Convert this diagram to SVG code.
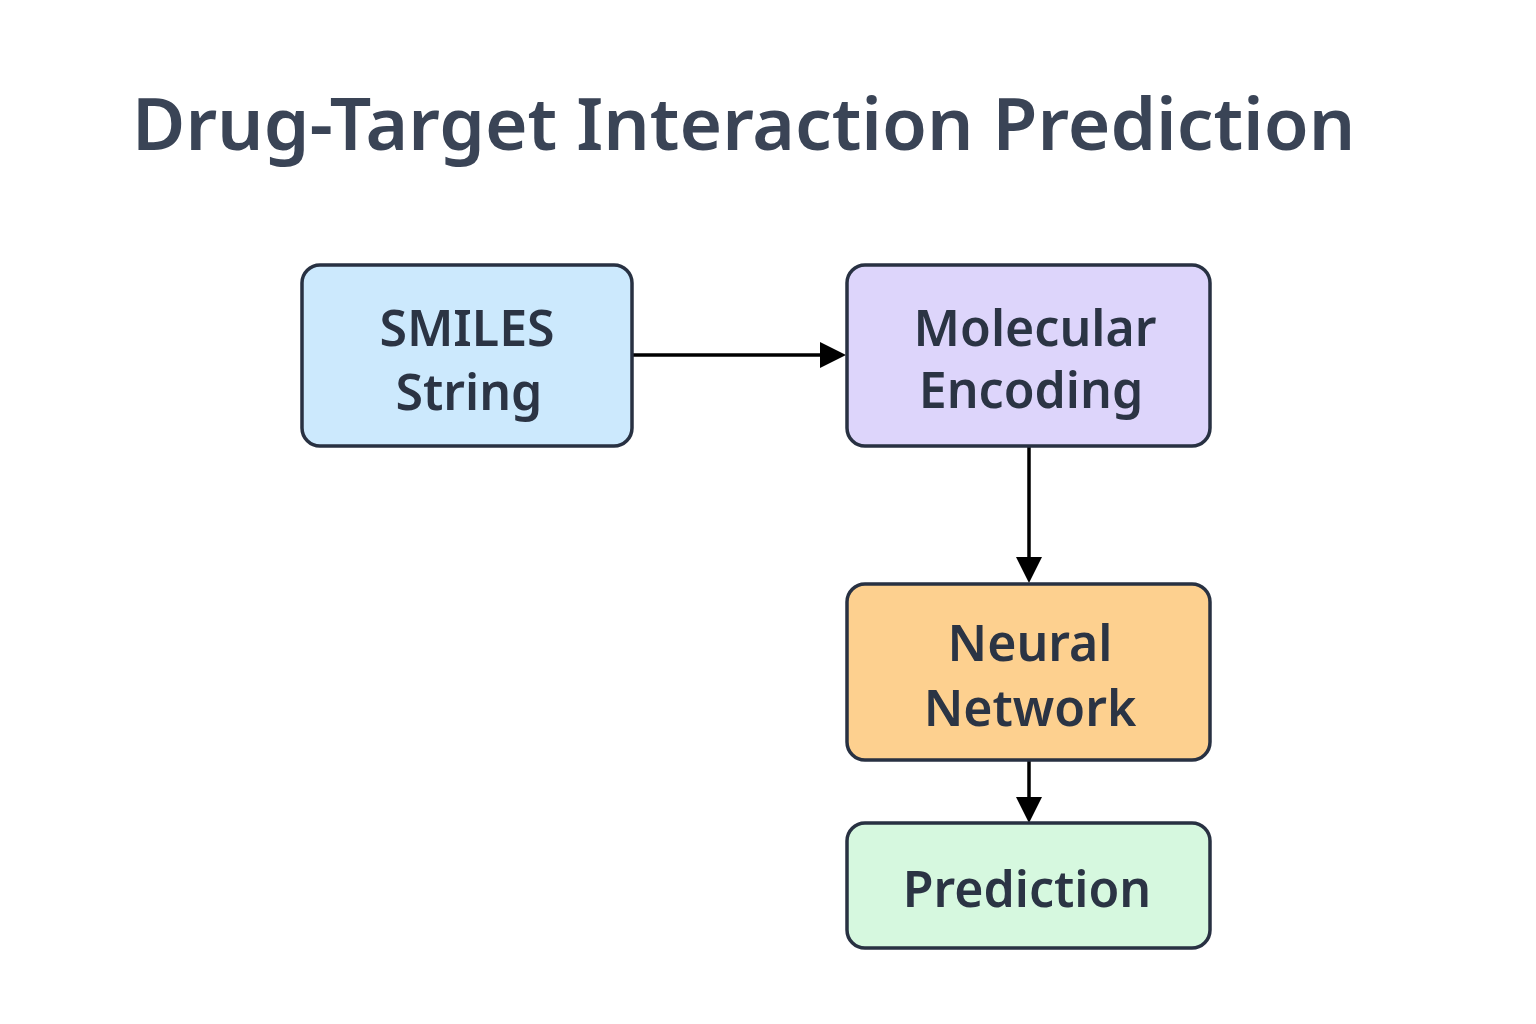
<svg xmlns="http://www.w3.org/2000/svg" width="1536" height="1024" viewBox="0 0 1536 1024">
<defs>
<style>
.box{stroke:#283142;stroke-width:3.5}
.lbl{font-family:"Noto Sans","Open Sans",sans-serif;font-weight:600;font-size:50px;fill:#2b3444;text-anchor:middle}
.title{font-family:"Noto Sans","Open Sans",sans-serif;font-weight:600;font-size:73px;fill:#3a4456}
.conn{stroke:#000;stroke-width:3.5;fill:none}
</style>
</defs>
<rect width="1536" height="1024" fill="#fff"/>
<text class="title" x="132" y="150">Drug-Target Interaction Prediction</text>
<g id="connectors">
<line class="conn" x1="633" y1="355" x2="823" y2="355"/>
<path d="M820,342 L846,355 L820,368 z" fill="#000"/>
<line class="conn" x1="1029" y1="447" x2="1029" y2="562"/>
<path d="M1016,557 L1029,583 L1042,557 z" fill="#000"/>
<line class="conn" x1="1029" y1="761" x2="1029" y2="802"/>
<path d="M1016,797 L1029,823 L1042,797 z" fill="#000"/>
</g>
<g id="smiles">
<rect class="box" x="302" y="265" width="330" height="181" rx="18" fill="#cce9fd"/>
<text class="lbl" x="467" y="346">SMILES</text>
<text class="lbl" x="469" y="410">String</text>
</g>
<g id="molecular">
<rect class="box" x="847" y="265" width="363" height="181" rx="18" fill="#ddd5fb"/>
<text class="lbl" x="1035" y="346">Molecular</text>
<text class="lbl" x="1031" y="408">Encoding</text>
</g>
<g id="neural">
<rect class="box" x="847" y="584" width="363" height="176" rx="18" fill="#fdd08f"/>
<text class="lbl" x="1030" y="661">Neural</text>
<text class="lbl" x="1030" y="726">Network</text>
</g>
<g id="prediction">
<rect class="box" x="847" y="823" width="363" height="125" rx="18" fill="#d6f8df"/>
<text class="lbl" x="1027" y="907">Prediction</text>
</g>
</svg>
